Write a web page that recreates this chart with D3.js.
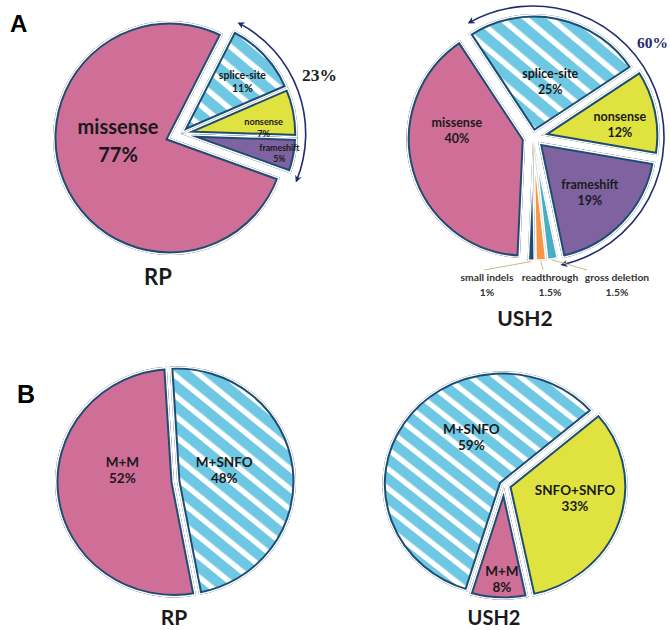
<!DOCTYPE html>
<html><head><meta charset="utf-8">
<script src="https://cdn.jsdelivr.net/npm/d3@7"></script>
<style>body{margin:0;background:#fff}svg{display:block}</style>
</head><body>
<svg id="c" width="670" height="630"></svg>
<script>
// ---------------- data ----------------
const panelLetters = ["A", "B"];
const panelTitles = ["RP", "USH2"];

const rpA_labels = ["splice-site", "nonsense", "frameshift", "missense"];
const rpA_values = [11, 7, 5, 77];
const rpA_groupLabel = "23%";

const ushA_labels = ["splice-site", "nonsense", "frameshift", "gross deletion", "readthrough", "small indels", "missense"];
const ushA_values = [25, 12, 19, 1.5, 1.5, 1, 40];
const ushA_groupLabel = "60%";

const rpB_labels = ["M+SNFO", "M+M"];
const rpB_values = [48, 52];

const ushB_labels = ["M+SNFO", "SNFO+SNFO", "M+M"];
const ushB_values = [59, 33, 8];

// ---------------- style ----------------
const NAVY = "#1f4d72", ARROW = "#1f2d6e", TXT = "#1a1a1a";
const PINK = "#cf6f97", STRIPE = "url(#stripes)", YELLOW = "#dfe23f", PURPLE = "#7f63a1",
      CYAN = "#4aacc5", ORANGE = "#f79646";
const SANS = "Lato, 'Open Sans', sans-serif";
const rad = d => d * Math.PI / 180;

const svg = d3.select("#c");
const defs = svg.append("defs");
const P = 16;
const pat = defs.append("pattern").attr("id", "stripes").attr("patternUnits", "userSpaceOnUse")
  .attr("width", P).attr("height", P).attr("patternTransform", "rotate(-50)");
pat.append("rect").attr("width", P).attr("height", P).attr("fill", "#6ec8e4");
pat.append("rect").attr("width", 5.5).attr("height", P).attr("fill", "#fff");

defs.append("marker").attr("id", "ah").attr("viewBox", "0 0 10 10").attr("refX", 7).attr("refY", 5)
  .attr("markerWidth", 7).attr("markerHeight", 7).attr("markerUnits", "userSpaceOnUse")
  .attr("orient", "auto-start-reverse")
  .append("path").attr("d", "M0,0L10,5L0,10L3,5Z").attr("fill", ARROW);

let uid = 0;
function drawPie(cfg) {
  const sy = cfg.sy || 1;
  const g = svg.append("g").attr("transform", `translate(${cfg.cx},${cfg.cy}) scale(1,${sy})`);
  const a0 = rad(cfg.start);
  const arcs = d3.pie().sort(null).value(d => d).startAngle(a0).endAngle(a0 + 2 * Math.PI)(cfg.values);
  const arc = d3.arc().innerRadius(0).outerRadius(cfg.r);
  const out = [];
  arcs.forEach((d, i) => {
    const mid = (d.startAngle + d.endAngle) / 2;
    const e = cfg.explode[i];
    const ea = e.angle !== undefined ? rad(e.angle) : mid;
    const ox = e.d * Math.sin(ea), oy = -e.d * Math.cos(ea);
    const sg = g.append("g").attr("transform", `translate(${ox},${oy})`);
    const id = "clip" + (uid++);
    sg.append("clipPath").attr("id", id).append("path").attr("d", arc(d));
    sg.append("path").attr("d", arc(d)).attr("fill", cfg.fills[i]);
    const gap = cfg.gap[i], sw = cfg.sw[i];
    if (sw > 0) sg.append("path").attr("d", arc(d)).attr("fill", "none").attr("stroke", NAVY)
      .attr("stroke-width", 2 * (gap + sw)).attr("stroke-linejoin", "miter").attr("clip-path", `url(#${id})`);
    sg.append("path").attr("d", arc(d)).attr("fill", "none").attr("stroke", "#fff")
      .attr("stroke-width", 2 * gap).attr("stroke-linejoin", "miter").attr("clip-path", `url(#${id})`);
    out.push({d, mid, ox, oy});
  });
  out.forEach((o, i) => {
    const L = cfg.labelPos[i];
    if (!L) return;
    const a = o.mid + rad(L[1]);
    const rr = L[0] * cfg.r;
    const x = cfg.cx + o.ox + rr * Math.sin(a);
    const y = cfg.cy + (o.oy - rr * Math.cos(a)) * sy;
    const fs = L[2], lh = L[3];
    const t = svg.append("text").attr("text-anchor", "middle").attr("font-family", SANS)
      .attr("font-weight", 700).attr("font-size", fs).attr("fill", TXT);
    t.append("tspan").attr("x", x).attr("y", y - lh / 2 + fs * 0.35).text(cfg.labels[i]);
    t.append("tspan").attr("x", x).attr("y", y + lh / 2 + fs * 0.35).text(cfg.values[i] + "%");
  });
  return {arcs: out, arc};
}

function arrowArc(cx, cy, r, d0, d1) {
  const p = d3.path();
  const t0 = rad(d0 - 90), t1 = rad(d1 - 90);
  p.moveTo(cx + r * Math.cos(t0), cy + r * Math.sin(t0));
  p.arc(cx, cy, r, t0, t1, false);
  svg.append("path").attr("d", p.toString()).attr("fill", "none").attr("stroke", ARROW)
    .attr("stroke-width", 1.6).attr("marker-start", "url(#ah)").attr("marker-end", "url(#ah)");
}

// ---------------- Panel A : RP ----------------
const rpAcx = 170, rpAcy = 138, rpAgrpAng = 68.4, rpAgrpD = 11.5;
drawPie({
  cx: rpAcx, cy: rpAcy, r: 117, start: 27, values: rpA_values, labels: rpA_labels,
  fills: [STRIPE, YELLOW, PURPLE, PINK],
  explode: [{d: rpAgrpD, angle: rpAgrpAng}, {d: rpAgrpD, angle: rpAgrpAng}, {d: rpAgrpD, angle: rpAgrpAng}, {d: 0}],
  gap: [1.5, 1.5, 1.5, 1.5], sw: [2, 2, 2, 2],
  labelPos: [[0.69, 3, 10.5, 13], [0.71, 7, 9.2, 12], [0.86, 0.5, 8.8, 11.5], [0.445, 18.5, 20, 28]]
});
{
  const gx = rpAcx + rpAgrpD * Math.sin(rad(rpAgrpAng)), gy = rpAcy - rpAgrpD * Math.cos(rad(rpAgrpAng));
  arrowArc(gx, gy, 125, 28, 112);
}
svg.append("text").attr("x", 302).attr("y", 81).attr("font-family", "'Liberation Serif', 'Times New Roman', serif")
  .attr("font-size", 17.5).attr("font-weight", 700).attr("fill", "#222").text(rpA_groupLabel);

// ---------------- Panel A : USH2 ----------------
const uAcx = 533, uAcy = 137, uAr = 119;
const uA = drawPie({
  cx: uAcx, cy: uAcy, r: uAr, start: -33.4, values: ushA_values, labels: ushA_labels,
  fills: [STRIPE, YELLOW, PURPLE, CYAN, ORANGE, NAVY, PINK],
  explode: [{d: 4}, {d: 8}, {d: 7}, {d: 5}, {d: 5}, {d: 5}, {d: 8}],
  gap: [1.5, 1.5, 1.5, 1.5, 1.5, 1.5, 1.5], sw: [2, 2, 2, 0, 0, 0, 2],
  labelPos: [[0.45, 6.3, 12.5, 16], [0.67, 4.3, 12.5, 16], [0.61, 0.4, 12.5, 16], null, null, null, [0.58, 22.8, 12.5, 16]]
});
arrowArc(uAcx, uAcy, 131, -29, 167);
svg.append("text").attr("x", 637).attr("y", 48).attr("font-family", "'Liberation Serif', 'Times New Roman', serif")
  .attr("font-size", 15.5).attr("font-weight", 700).attr("fill", ARROW).text(ushA_groupLabel);

// small-slice callouts (slices 3,4,5)
const smallIdx = [3, 4, 5];
const smallDx = {3: 84, 4: 17, 5: -46};     // label offsets from pie centre
const smallLead = {3: -30, 4: -7, 5: -3};   // leader start offsets from label centre
const rimArc = d3.arc().innerRadius(uAr - 1.5).outerRadius(uAr - 1.5);
smallIdx.forEach(i => {
  const o = uA.arcs[i];
  const c = rimArc.centroid(o.d);
  const rx = uAcx + o.ox + c[0], ry = uAcy + o.oy + c[1] + 2;
  const lx = uAcx + smallDx[i], ly = uAcy + 140;
  svg.append("line").attr("x1", lx + smallLead[i]).attr("y1", ly - 7).attr("x2", rx).attr("y2", ry)
    .attr("stroke", "#c6b88f").attr("stroke-width", 1);
  const t = svg.append("text").attr("text-anchor", "middle").attr("font-family", SANS)
    .attr("font-weight", 700).attr("font-size", 10.3).attr("fill", "#333");
  t.append("tspan").attr("x", lx).attr("y", ly + 3.5).text(ushA_labels[i]);
  t.append("tspan").attr("x", lx).attr("y", ly + 18.5).text(ushA_values[i] + "%");
});

// ---------------- Panel B : RP ----------------
drawPie({
  cx: 174, cy: 482, r: 119, sy: 0.97, start: -3.5, values: rpB_values, labels: rpB_labels,
  fills: [STRIPE, PINK],
  explode: [{d: 3}, {d: 0}],
  gap: [1.5, 1.5], sw: [2, 2],
  labelPos: [[0.41, -7.2, 13.5, 16], [0.445, 20, 13.5, 16]]
});

// ---------------- Panel B : USH2 ----------------
drawPie({
  cx: 504, cy: 485, r: 120, sy: 0.94, start: -163, values: ushB_values, labels: ushB_labels,
  fills: [STRIPE, YELLOW, PINK],
  explode: [{d: 2}, {d: 4}, {d: 2}],
  gap: [1.5, 1.5, 1.5], sw: [2, 2, 2],
  labelPos: [[0.49, 25, 13.5, 16], [0.57, -8, 13.5, 16], [0.82, -1.4, 13.5, 16]]
});

// ---------------- titles & panel letters ----------------
const titlePos = [[158, 285, 22], [525, 326, 21], [174, 625, 21], [494, 625, 20]];
[0, 1, 0, 1].forEach((k, i) => {
  svg.append("text").attr("x", titlePos[i][0]).attr("y", titlePos[i][1]).attr("text-anchor", "middle")
    .attr("font-family", SANS).attr("font-weight", 700).attr("font-size", titlePos[i][2]).attr("fill", TXT)
    .text(panelTitles[k]);
});
svg.append("text").attr("x", 10).attr("y", 32).attr("font-family", "'Liberation Sans', Arial, sans-serif")
  .attr("font-weight", 700).attr("font-size", 24).attr("fill", "#000").text(panelLetters[0]);
svg.append("text").attr("x", 17).attr("y", 403).attr("font-family", "'Liberation Sans', Arial, sans-serif")
  .attr("font-weight", 700).attr("font-size", 25).attr("fill", "#000").text(panelLetters[1]);
</script>
</body></html>
